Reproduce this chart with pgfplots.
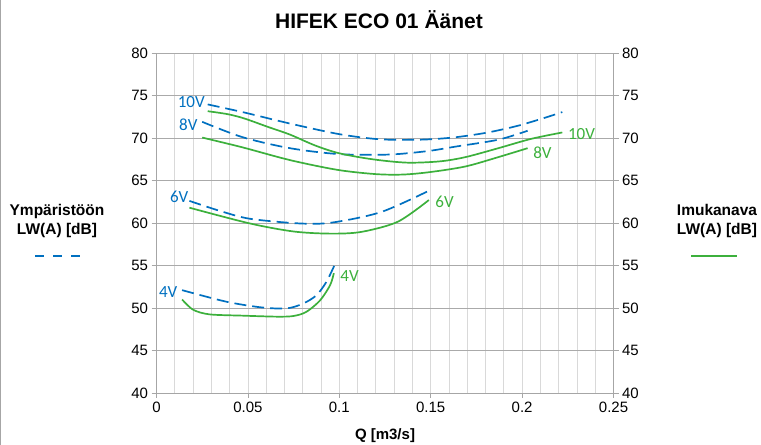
\documentclass[border=0pt]{standalone}
\usepackage{pgfplots}
\pgfplotsset{compat=1.18}
\usepackage{fontspec}
\setmainfont{Liberation Sans}
\newfontfamily\calibri{Carlito}
\definecolor{eblue}{RGB}{0,112,192}
\definecolor{egreen}{RGB}{60,176,60}
\definecolor{gridc}{RGB}{217,217,217}
\definecolor{hgrid}{RGB}{170,170,170}
\definecolor{axc}{RGB}{166,166,166}
\begin{document}
\begin{tikzpicture}[x=1bp,y=1bp]
\path[use as bounding box] (0,0) rectangle (761,445);
\draw[axc, line width=1.5bp] (0.75,0) -- (0.75,445);
\begin{axis}[at={(156.5bp,52bp)}, anchor=south west, scale only axis,
  width=457bp, height=340bp,
  xmin=0, xmax=0.25, ymin=40, ymax=80,
  xtick={0,0.05,0.1,0.15,0.2,0.25},
  xticklabels={0,0.05,0.1,0.15,0.2,0.25},
  minor x tick num=4,
  ytick={40,45,...,80},
  xmajorgrids, xminorgrids, ymajorgrids,
  x grid style={color=gridc, line width=0.8bp},
  y grid style={color=hgrid, line width=0.8bp},
  axis y line*=left, axis x line*=bottom,
  axis line style={axc, line width=0.8bp, -},
  tick align=outside,
  major tick length=5bp, minor tick length=0bp,
  tick style={axc, line width=0.8bp},
  ticklabel style={font=\fontsize{15bp}{18bp}\selectfont, text=black},
  /pgf/number format/assume math mode=true,
  xticklabel style={yshift=-1bp},
  xlabel={\bfseries Q [m3/s]},
  xlabel style={font=\fontsize{15bp}{18bp}\selectfont, yshift=-9bp},
  clip=false,
]
% blue dashed (Ympäristöön)
\addplot[eblue, line width=1.7bp, dash pattern=on 12bp off 6bp, smooth] coordinates {
 (0.028,73.95) (0.048,73.0) (0.073,71.7) (0.100,70.45) (0.122,69.85) (0.144,69.8) (0.162,70.05) (0.180,70.6) (0.197,71.4) (0.212,72.35) (0.222,73.05)};
\addplot[eblue, line width=1.7bp, dash pattern=on 12bp off 6bp, smooth] coordinates {
 (0.025,71.9) (0.047,70.1) (0.073,68.8) (0.100,68.1) (0.127,68.05) (0.148,68.45) (0.164,69.0) (0.187,69.8) (0.203,70.85)};
\addplot[eblue, line width=1.7bp, dash pattern=on 12bp off 6bp, smooth] coordinates {
 (0.018,62.6) (0.035,61.4) (0.051,60.5) (0.078,59.95) (0.096,60.05) (0.123,61.3) (0.150,63.9)};
\addplot[eblue, line width=1.7bp, dash pattern=on 12bp off 6bp, smooth] coordinates {
 (0.014,52.1) (0.038,50.75) (0.057,50.08) (0.071,49.95) (0.080,50.5) (0.0875,51.5) (0.093,53.1) (0.0975,55.1)};
% green solid (Imukanava)
\addplot[egreen, line width=1.7bp, smooth] coordinates {
 (0.028,73.15) (0.039,72.8) (0.048,72.3) (0.061,71.3) (0.073,70.4) (0.087,69.1) (0.100,68.2) (0.118,67.5) (0.137,67.1) (0.155,67.25) (0.169,67.75) (0.187,68.8) (0.205,69.9) (0.222,70.65)};
\addplot[egreen, line width=1.7bp, smooth] coordinates {
 (0.025,70.05) (0.047,68.9) (0.073,67.4) (0.099,66.25) (0.120,65.75) (0.135,65.7) (0.150,66.0) (0.169,66.65) (0.187,67.75) (0.203,68.8)};
\addplot[egreen, line width=1.7bp, smooth] coordinates {
 (0.018,61.8) (0.051,59.95) (0.075,59.0) (0.095,58.75) (0.112,58.95) (0.132,60.15) (0.149,62.7)};
\addplot[egreen, line width=1.7bp, smooth] coordinates {
 (0.014,51.0) (0.020,49.8) (0.029,49.25) (0.047,49.1) (0.066,48.98) (0.075,49.06) (0.082,49.55) (0.0895,50.9) (0.095,52.7) (0.097,54.1)};
% series labels
\begin{scope}[font=\calibri\fontsize{17bp}{20bp}\selectfont, inner sep=0pt]
\node[eblue, anchor=east] at (axis cs:0.0265,74.2) {10V};
\node[eblue, anchor=east] at (axis cs:0.0225,71.5) {8V};
\node[eblue, anchor=east] at (axis cs:0.0175,63.1) {6V};
\node[eblue, anchor=east] at (axis cs:0.0115,51.9) {4V};
\node[egreen, anchor=west] at (axis cs:0.225,70.5) {10V};
\node[egreen, anchor=west] at (axis cs:0.206,68.25) {8V};
\node[egreen, anchor=west] at (axis cs:0.1525,62.5) {6V};
\node[egreen, anchor=west] at (axis cs:0.1005,53.8) {4V};
\end{scope}
\end{axis}
\begin{axis}[at={(156.5bp,52bp)}, anchor=south west, scale only axis,
  width=457bp, height=340bp,
  xmin=0, xmax=0.25, ymin=40, ymax=80,
  ytick={40,45,...,80},
  axis y line*=right, axis x line=none,
  axis line style={axc, line width=0.8bp, -},
  tick align=outside, major tick length=5bp,
  tick style={axc, line width=0.8bp},
  ticklabel style={font=\fontsize{15bp}{18bp}\selectfont, text=black},
  /pgf/number format/assume math mode=true,
]
\addplot[draw=none] coordinates {(0,40)};
\end{axis}
\node[font=\bfseries\fontsize{21bp}{25bp}\selectfont] at (379,425) {HIFEK ECO 01 Äänet};
\node[font=\bfseries\fontsize{15.5bp}{18bp}\selectfont, align=center] at (57,224) {Ympäristöön\\LW(A) [dB]};
\draw[eblue, line width=1.7bp, dash pattern=on 9bp off 9bp] (35,189) -- (80,189);
\node[font=\bfseries\fontsize{15.5bp}{18bp}\selectfont, align=center] at (717,224) {Imukanava\\LW(A) [dB]};
\draw[egreen, line width=1.7bp] (691,189) -- (737,189);
\end{tikzpicture}
\end{document}
